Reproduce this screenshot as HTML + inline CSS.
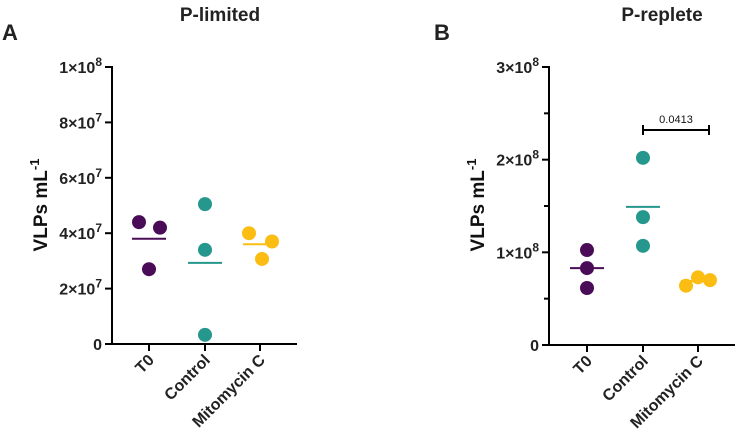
<!DOCTYPE html>
<html><head><meta charset="utf-8"><style>
html,body{margin:0;padding:0;background:#fff;}
svg{display:block;font-family:"Liberation Sans",Arial,sans-serif;font-weight:bold;}
</style></head><body>
<svg id="chart" width="735" height="437" viewBox="0 0 735 437" xmlns="http://www.w3.org/2000/svg"></svg>
<script>
const categories = ["T0","Control","Mitomycin C"];
const colors = ["#4a0c57","#26978c","#fbbd12"];
// Panel A (P-limited), values in units of 1e7
const aValues = [[4.4,4.2,2.7],[5.05,3.4,0.33],[4.0,3.7,3.07]];
const aMeans = [3.8,2.93,3.6];
const aOffsets = [[-10,11,0],[0,0,0],[-11,12,2]];
const aTicks = [0,2,4,6,8,10];
const aTickLabels = ["0","2×10^7","4×10^7","6×10^7","8×10^7","1×10^8"];
// Panel B (P-replete), values in units of 1e8
const bValues = [[1.025,0.83,0.615],[2.02,1.38,1.07],[0.64,0.73,0.70]];
const bMeans = [0.83,1.49,0.69];
const bOffsets = [[0,0,0],[0,0,0],[-12,0,12]];
const bTicks = [0,1,2,3];
const bTickLabels = ["0","1×10^8","2×10^8","3×10^8"];
const bMinorTicks = [0.5,1.5,2.5];
const pValueLabel = "0.0413";

const NS="http://www.w3.org/2000/svg";
const svg=document.getElementById('chart');
function el(tag,attrs,parent){const e=document.createElementNS(NS,tag);for(const k in attrs)e.setAttribute(k,attrs[k]);(parent||svg).appendChild(e);return e;}

function panel(cfg){
  const g=el('g',{});
  
  
  const y=v=>cfg.y0-(v-cfg.min)/(cfg.max-cfg.min)*(cfg.y0-cfg.y1);
  const x=i=>cfg.xs[i];
  const t=el('text',{x:cfg.titleX,y:21,'text-anchor':'middle','font-size':19,fill:'#222'},g);t.textContent=cfg.title;
  
  const l=el('text',{x:cfg.letterX,y:40,'font-size':22,fill:'#222'},g);l.textContent=cfg.letter;
  
  const ya=el('line',{x1:cfg.ax,y1:cfg.y1-1,x2:cfg.ax,y2:cfg.y0+1,stroke:'#000','stroke-width':2},g);
  
  const xa=el('line',{x1:cfg.ax-1,y1:cfg.y0,x2:cfg.xEnd,y2:cfg.y0,stroke:'#000','stroke-width':2},g);
  
  cfg.ticks.forEach((v,i)=>{
    const yy=y(v);
    el('line',{x1:cfg.ax-7,y1:yy,x2:cfg.ax,y2:yy,stroke:'#000','stroke-width':2},g);
    const parts=cfg.tickLabels[i].split('^');
    const tx=el('text',{x:cfg.ax-10,y:yy+6,'text-anchor':'end','font-size':16,fill:'#222'},g);
    
    if(parts.length>1){
      const s1=el('tspan',{},tx);s1.textContent=parts[0];
      const s2=el('tspan',{dy:-7,'font-size':12},tx);s2.textContent=parts[1];
    } else tx.textContent=parts[0];
  });
  (cfg.minor||[]).forEach(v=>{const yy=y(v);el('line',{x1:cfg.ax-5,y1:yy,x2:cfg.ax,y2:yy,stroke:'#000','stroke-width':2},g);});
  categories.forEach((c,i)=>{
    el('line',{x1:x(i),y1:cfg.y0,x2:x(i),y2:cfg.y0+7,stroke:'#000','stroke-width':2},g);
    const tx=el('text',{x:0,y:0,'text-anchor':'end','font-size':16,fill:'#222',transform:`translate(${x(i)+6},${cfg.y0+17}) rotate(-45)`},g);
    tx.textContent=c;
    
  });
  const yt=el('text',{x:0,y:0,'text-anchor':'middle','font-size':19,fill:'#111',transform:`translate(${cfg.ytX},${cfg.ytY}) rotate(-90)`},g);
  
  const a=el('tspan',{},yt);a.textContent='VLPs mL';
  const b=el('tspan',{dy:-8,'font-size':13},yt);b.textContent='-1';
  cfg.values.forEach((vals,i)=>{
    vals.forEach((v,j)=>{
      const c=el('circle',{cx:x(i)+cfg.offsets[i][j],cy:y(v),r:7,fill:colors[i]},g);
      
      
    });
    const m=el('line',{x1:x(i)-17,y1:y(cfg.means[i]),x2:x(i)+17,y2:y(cfg.means[i]),stroke:colors[i],'stroke-width':2},g);
    
  });
  return {g,y,x};
}

panel({name:'panel-a',title:'P-limited',titleX:220,letter:'A',letterX:2,ax:112,y0:344,y1:67,min:0,max:10,xEnd:297,
  xs:[149,205,260],ticks:aTicks,tickLabels:aTickLabels,values:aValues,means:aMeans,offsets:aOffsets,ytX:47,ytY:205});
const pb=panel({name:'panel-b',title:'P-replete',titleX:662,letter:'B',letterX:434,ax:549,y0:345,y1:67,min:0,max:3,xEnd:735,
  xs:[587,643,698],ticks:bTicks,tickLabels:bTickLabels,minor:bMinorTicks,values:bValues,means:bMeans,offsets:bOffsets,ytX:484,ytY:205});
const sg=el('g',{},pb.g);


el('line',{x1:643,y1:130,x2:709,y2:130,stroke:'#000','stroke-width':2},sg);
el('line',{x1:643,y1:125,x2:643,y2:135,stroke:'#000','stroke-width':2},sg);
el('line',{x1:709,y1:125,x2:709,y2:135,stroke:'#000','stroke-width':2},sg);
const pt=el('text',{x:676,y:123,'text-anchor':'middle','font-size':11,'font-weight':'normal',fill:'#111'},sg);
pt.textContent=pValueLabel;


</script>
</body></html>
